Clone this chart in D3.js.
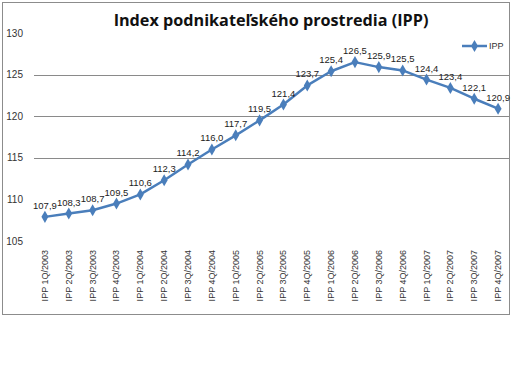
<!doctype html>
<meta charset="utf-8">
<script src="https://d3js.org/d3.v7.min.js"></script>
<style>
  body { margin: 0; background: #fff; }
  text { font-family: "Liberation Sans", Arial, sans-serif; }
</style>
<body></body>
<script>

var width = 512;
var height = 384;

// data
var quarters = ["IPP 1Q/2003", "IPP 2Q/2003", "IPP 3Q/2003", "IPP 4Q/2003",
                "IPP 1Q/2004", "IPP 2Q/2004", "IPP 3Q/2004", "IPP 4Q/2004",
                "IPP 1Q/2005", "IPP 2Q/2005", "IPP 3Q/2005", "IPP 4Q/2005",
                "IPP 1Q/2006", "IPP 2Q/2006", "IPP 3Q/2006", "IPP 4Q/2006",
                "IPP 1Q/2007", "IPP 2Q/2007", "IPP 3Q/2007", "IPP 4Q/2007"];
var ipp = [107.9, 108.3, 108.7, 109.5, 110.6, 112.3, 114.2, 116.0, 117.7, 119.5,
           121.4, 123.7, 125.4, 126.5, 125.9, 125.5, 124.4, 123.4, 122.1, 120.9];
var yTicks = [105, 110, 115, 120, 125, 130];
var gridTicks = [115, 120, 125];

var blue = "#4a7ebb";

var svg = d3.select("body")
        .append("svg")
        .attr("width", width)
        .attr("height", height);

// chart frame
svg.append("rect")
        .attr("x", 2.5)
        .attr("y", 2.5)
        .attr("width", 507)
        .attr("height", 312)
        .attr("fill", "#fff")
        .attr("stroke", "#8c8c8c");

var x = d3.scaleBand()
        .domain(quarters)
        .range([33, 510])
        .padding(0);

var y = d3.scaleLinear()
        .domain([105, 130])
        .range([241, 33]);

var cx = function(d){ return x(d) + x.bandwidth() / 2; };

// gridlines
svg.append("g")
        .selectAll("line")
        .data(gridTicks)
        .enter()
        .append("line")
        .attr("x1", 34)
        .attr("x2", 509)
        .attr("y1", function(d){ return Math.round(y(d)) + 0.5; })
        .attr("y2", function(d){ return Math.round(y(d)) + 0.5; })
        .attr("stroke", "#8a8a8a")
        .attr("stroke-width", 1);

// y tick labels
svg.append("g")
        .selectAll("text")
        .data(yTicks)
        .enter()
        .append("text")
        .attr("x", 23)
        .attr("y", function(d){ return y(d); })
        .attr("dy", "0.35em")
        .attr("text-anchor", "end")
        .attr("font-size", 10)
        .attr("fill", "#333")
        .text(function(d){ return d; });

// x tick labels, rotated
svg.append("g")
        .selectAll("text")
        .data(quarters)
        .enter()
        .append("text")
        .attr("transform", function(d){
            return "translate(" + (cx(d) + 3) + ",250) rotate(-90)";
        })
        .attr("text-anchor", "end")
        .attr("font-size", 9)
        .attr("fill", "#333")
        .text(function(d){ return d; });

// series line
var pts = quarters.map(function(q, i){ return [cx(q), y(ipp[i])]; });

svg.append("path")
        .datum(pts)
        .attr("d", d3.line())
        .attr("fill", "none")
        .attr("stroke", blue)
        .attr("stroke-width", 2.5)
        .attr("stroke-linejoin", "round");

var diamond = d3.symbol().type(d3.symbolDiamond).size(42);

svg.append("g")
        .selectAll("path")
        .data(pts)
        .enter()
        .append("path")
        .attr("d", diamond)
        .attr("transform", function(d){ return "translate(" + d[0] + "," + d[1] + ")"; })
        .attr("fill", blue);

// data labels
var fmt = function(v){ return v.toFixed(1).replace(".", ","); };

svg.append("g")
        .selectAll("text")
        .data(ipp)
        .enter()
        .append("text")
        .attr("x", function(d, i){ return cx(quarters[i]); })
        .attr("y", function(d){ return y(d) - 8; })
        .attr("text-anchor", "middle")
        .attr("font-size", 9.5)
        .attr("fill", "#222")
        .text(fmt);

// title
svg.append("text")
        .attr("x", 271)
        .attr("y", 26)
        .attr("text-anchor", "middle")
        .attr("font-size", 16.2)
        .attr("font-weight", "bold")
        .attr("fill", "#111")
        .style("font-family", "'Open Sans', sans-serif")
        .text("Index podnikateľského prostredia (IPP)");

// legend
var lg = svg.append("g").attr("transform", "translate(462,46)");
lg.append("line")
        .attr("x1", 0).attr("x2", 25)
        .attr("stroke", blue).attr("stroke-width", 2.5);
lg.append("path")
        .attr("d", diamond)
        .attr("transform", "translate(12.5,0)")
        .attr("fill", blue);
lg.append("text")
        .attr("x", 27)
        .attr("dy", "0.35em")
        .attr("font-size", 9)
        .attr("fill", "#333")
        .text("IPP");

</script>
